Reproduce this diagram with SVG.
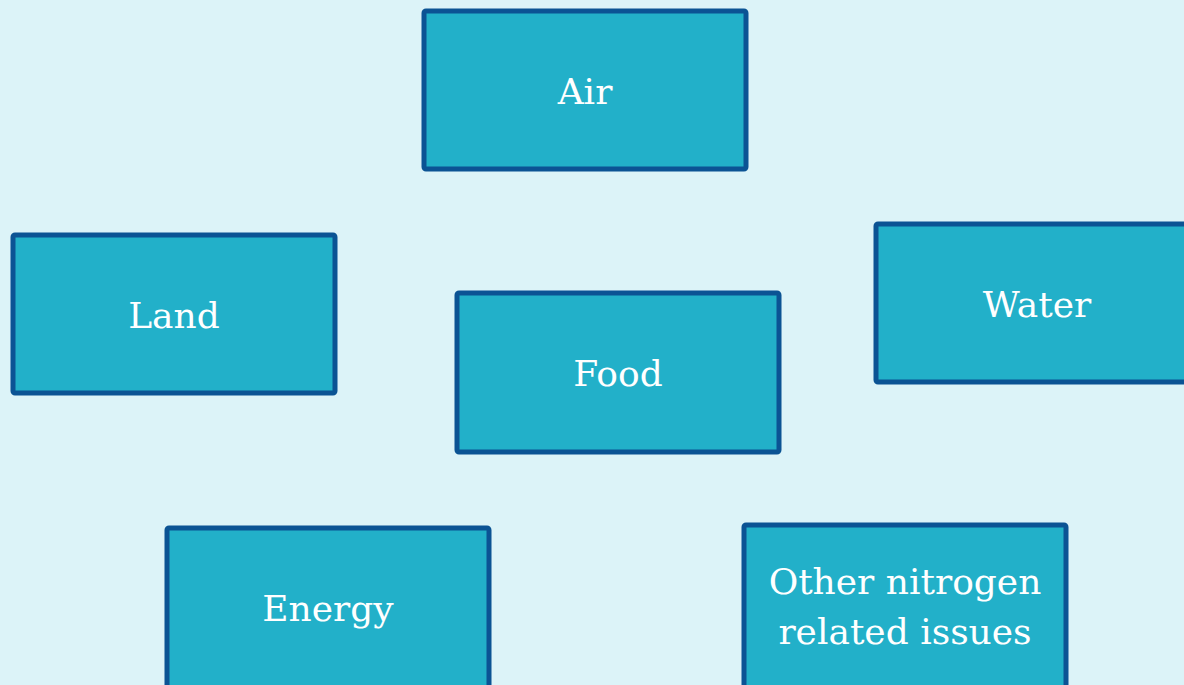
<svg xmlns="http://www.w3.org/2000/svg" width="1184" height="685" viewBox="0 0 1184 685">
<style>
.box{fill:#22B0C9;stroke:#0B5394;stroke-width:5;}
.lbl{font-family:"DejaVu Serif","Liberation Serif",serif;font-size:36px;fill:#FFFFFF;text-anchor:middle;}
</style>
<rect x="0" y="0" width="1184" height="685" fill="#DCF3F8"/>
<g id="connectors"></g>
<g id="air"><rect class="box" x="424" y="11" width="322" height="158" rx="2"/><text class="lbl" x="585" y="104">Air</text></g>
<g id="land"><rect class="box" x="13" y="235" width="322" height="158" rx="2"/><text class="lbl" x="174" y="328">Land</text></g>
<g id="food"><rect class="box" x="457" y="293" width="322" height="159" rx="2"/><text class="lbl" x="618" y="386">Food</text></g>
<g id="water"><rect class="box" x="876" y="224" width="324" height="158" rx="2"/><text class="lbl" x="1037" y="317">Water</text></g>
<g id="energy"><rect class="box" x="167" y="528" width="322" height="170" rx="2"/><text class="lbl" x="328" y="621">Energy</text></g>
<g id="other"><rect class="box" x="744" y="525" width="322" height="170" rx="2"/><text class="lbl" x="905" y="594">Other nitrogen</text><text class="lbl" x="905" y="644">related issues</text></g>
</svg>
